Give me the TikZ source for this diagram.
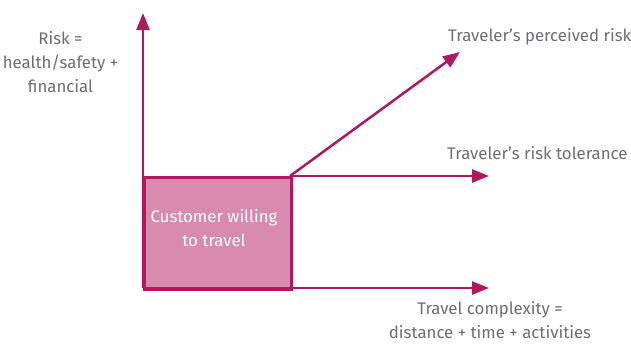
\documentclass[tikz,border=0pt]{standalone}
\usepackage{fontspec}
\setmainfont{Fira Sans}
\usetikzlibrary{arrows.meta}
\definecolor{berry}{HTML}{B0195E}
\definecolor{rose}{HTML}{D88BAE}
\definecolor{labelgray}{HTML}{6D6E71}
\tikzset{
  axis/.style={line width=2.5pt, draw=berry, -{Triangle[length=17pt,width=13pt]}},
  lbl/.style={text=labelgray, font=\fontsize{16.8}{24}\selectfont, inner sep=0pt},
}
\begin{document}
\begin{tikzpicture}[x=1pt,y=-1pt]
\useasboundingbox (0,0) rectangle (631,349);
% comfort zone
\node[draw=berry, line width=2.5pt, fill=rose, minimum width=147pt, minimum height=112pt, anchor=north west, inner sep=0pt] (zone) at (143,176) {};
\node[text=white, font=\fontsize{16.8}{24}\selectfont, align=center, inner sep=0pt] (zonetxt) at (214,228) {Customer willing\\to travel};
% axes
\coordinate (origin) at (143,288);
\coordinate (ytip) at (143,13);
\coordinate (xtip) at (489,288);
\coordinate (corner) at (290,176);
\coordinate (toltip) at (489,176);
\coordinate (perctip) at (460,52);
\draw[axis] (origin) -- (ytip);
\draw[axis] (origin) -- (xtip);
\draw[axis] (corner) -- (toltip);
\draw[axis] (corner) -- (perctip);
% labels
\node[lbl, align=center] (risk) at (60.5,62) {Risk =\\health/safety +\\financial};
\node[lbl, anchor=west] (perc) at (448,37) {Traveler’s perceived risk};
\node[lbl, anchor=west] (tol) at (447,153) {Traveler’s risk tolerance};
\node[lbl, align=center] (cx) at (490,320) {Travel complexity =\\distance + time + activities};
\end{tikzpicture}
\end{document}
